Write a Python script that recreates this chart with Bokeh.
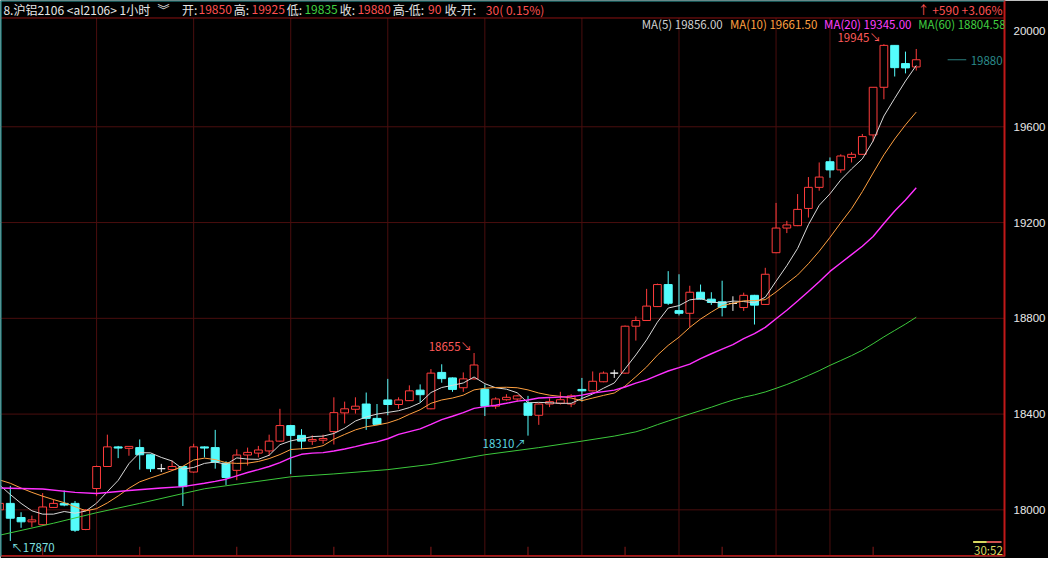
from bokeh.plotting import figure
from bokeh.models import (Range1d, LinearAxis, FixedTicker, Span, Label,
                          ColumnDataSource, Grid, PrintfTickFormatter)
from bokeh.core.properties import value
from bokeh.embed import file_html
from bokeh.resources import INLINE

# ---------------- data ----------------
opens = [18000, 18027, 17968, 17950, 17938, 18010, 18027, 18027, 17918, 18089,
         18181, 18263, 18257, 18260, 18230, 18172, 18168, 18181, 18158, 18263,
         18260, 18195, 18165, 18229, 18237, 18246, 18287, 18352, 18311, 18287,
         18291, 18327, 18405, 18420, 18442, 18382, 18459, 18440, 18456, 18500,
         18422, 18574, 18551, 18510, 18547, 18503, 18433, 18460, 18463, 18446,
         18395, 18442, 18445, 18442, 18503, 18497, 18535, 18571, 18571, 18767,
         18791, 18849, 18941, 18832, 18821, 18909, 18880, 18869, 18862, 18845,
         18896, 18858, 19074, 19177, 19187, 19259, 19347, 19454, 19420, 19472,
         19485, 19566, 19765, 19940, 19864, 19850]
highs = [18040, 18100, 17990, 17976, 18070, 18043, 18081, 18037, 18003, 18185,
         18314, 18267, 18266, 18294, 18232, 18192, 18206, 18183, 18276, 18265,
         18334, 18203, 18253, 18260, 18267, 18314, 18422, 18355, 18337, 18311,
         18314, 18470, 18452, 18470, 18490, 18442, 18547, 18470, 18520, 18524,
         18588, 18608, 18553, 18574, 18655, 18524, 18470, 18483, 18480, 18476,
         18445, 18466, 18493, 18483, 18551, 18578, 18578, 18585, 18770, 18808,
         18923, 18945, 18997, 18984, 18936, 18941, 18909, 18957, 18892, 18907,
         18898, 19011, 19282, 19207, 19319, 19390, 19451, 19472, 19485, 19494,
         19570, 19765, 19945, 19940, 19914, 19925]
lows = [17990, 17870, 17925, 17928, 17935, 18008, 18015, 17908, 17915, 18057,
        18180, 18216, 18226, 18168, 18158, 18158, 18165, 18016, 18155, 18219,
        18172, 18104, 18124, 18185, 18219, 18226, 18285, 18149, 18253, 18271,
        18276, 18273, 18361, 18402, 18334, 18355, 18395, 18422, 18455, 18449,
        18420, 18531, 18493, 18493, 18545, 18392, 18422, 18456, 18452, 18310,
        18355, 18429, 18440, 18429, 18452, 18495, 18533, 18551, 18568, 18707,
        18790, 18847, 18856, 18812, 18763, 18878, 18856, 18808, 18831, 18831,
        18774, 18856, 19072, 19156, 19185, 19221, 19333, 19387, 19408, 19451,
        19483, 19539, 19715, 19810, 19823, 19835]
closes = [18027, 17965, 17950, 17958, 18012, 18027, 18020, 17915, 17999, 18181,
          18263, 18258, 18265, 18230, 18172, 18172, 18181, 18097, 18263, 18258,
          18199, 18135, 18229, 18240, 18250, 18287, 18352, 18311, 18287, 18294,
          18298, 18406, 18422, 18433, 18382, 18357, 18440, 18459, 18497, 18481,
          18571, 18548, 18503, 18547, 18605, 18433, 18463, 18470, 18476, 18395,
          18442, 18452, 18460, 18476, 18497, 18537, 18571, 18571, 18767, 18791,
          18851, 18941, 18863, 18821, 18909, 18880, 18866, 18845, 18862, 18896,
          18855, 18984, 19177, 19190, 19255, 19347, 19390, 19420, 19478, 19485,
          19559, 19765, 19940, 19847, 19846, 19880]

ma5 = [18104, 18064, 18027, 17996, 17982, 17982, 17993, 17986, 17995, 18028,
       18076, 18123, 18193, 18239, 18238, 18219, 18204, 18170, 18177, 18194,
       18200, 18190, 18217, 18212, 18211, 18228, 18272, 18288, 18297, 18306,
       18308, 18319, 18341, 18371, 18388, 18400, 18407, 18414, 18427, 18447,
       18490, 18511, 18520, 18530, 18555, 18527, 18510, 18504, 18489, 18447,
       18449, 18447, 18445, 18445, 18465, 18484, 18508, 18530, 18589, 18647,
       18710, 18784, 18843, 18853, 18877, 18883, 18868, 18864, 18872, 18870,
       18865, 18888, 18955, 19020, 19092, 19191, 19272, 19320, 19378, 19424,
       19466, 19541, 19645, 19719, 19791, 19856.00]
ma10 = [18125, 18111, 18091, 18073, 18057, 18043, 18030, 18013, 17996, 18005,
        18029, 18058, 18090, 18117, 18133, 18148, 18164, 18182, 18208, 18216,
        18210, 18197, 18194, 18195, 18202, 18214, 18231, 18252, 18255, 18258,
        18268, 18295, 18315, 18334, 18347, 18354, 18363, 18378, 18399, 18418,
        18445, 18459, 18467, 18479, 18501, 18508, 18511, 18512, 18510, 18501,
        18488, 18479, 18474, 18467, 18456, 18467, 18478, 18488, 18517, 18556,
        18597, 18646, 18687, 18721, 18762, 18797, 18826, 18853, 18863, 18873,
        18874, 18878, 18910, 18946, 18981, 19028, 19080, 19138, 19199, 19258,
        19329, 19407, 19483, 19549, 19608, 19661.50]
ma20_idx = [0, 4, 7, 9, 12, 15, 17] + list(range(19, 86))
ma20 = [18091, 18087, 18073, 18068, 18081, 18091, 18097,
        18111, 18119, 18128, 18142, 18156, 18168, 18181, 18197, 18217, 18232,
        18237, 18239, 18246, 18254, 18264, 18275, 18284, 18297, 18315, 18327,
        18338, 18357, 18377, 18391, 18406, 18424, 18431, 18437, 18445, 18454,
        18459, 18467, 18469, 18471, 18473, 18479, 18488, 18494, 18500, 18513,
        18529, 18543, 18562, 18580, 18594, 18609, 18632, 18652, 18671, 18690,
        18715, 18736, 18762, 18798, 18834, 18872, 18912, 18953, 18996, 19031,
        19066, 19101, 19142, 19196, 19248, 19294, 19345.00]
ma60_idx = [0, 5, 9, 13, 17, 19, 27, 31, 36, 40, 45, 50, 54, 57] + list(range(59, 86))
ma60 = [17894, 17944, 17988, 18027, 18068, 18088, 18138, 18150, 18168, 18190,
        18230, 18260, 18287, 18308,
        18325.8, 18339.5, 18355.8, 18371.0, 18385.4, 18400.3, 18414.6, 18428.7,
        18444.2, 18458.5, 18470.5, 18480.3, 18492.4, 18507.6, 18523.6, 18541.7,
        18561.3, 18581.4, 18603.5, 18623.7, 18644.2, 18666.8, 18694.0, 18722.5,
        18749.3, 18775.9, 18804.58]

ma_names = ["MA(5)", "MA(10)", "MA(20)", "MA(60)"]
day_start_idx = [9, 18, 27, 36, 45, 54, 63, 72, 77]
day_mid_idx = [4, 13, 22, 31, 40, 49, 58, 67, 81]
price_ticks = [18000, 18400, 18800, 19200, 19600, 20000]
grid_prices = [18000, 18400, 18800, 19200, 19600]
high_marks = [82, 44]     # candles whose high is annotated
low_marks = [49, 1]       # candles whose low is annotated
change_text = "\u2191 +590 +3.06%"
timer_text = "30:52"

# ---------------- layout helpers (reference pixel -> data) ----------------
def dx(px):
    return (px + 1) / 11.0


def dy(py):
    return 18000 + (524 - py) * 4.0601


RED = "#ff3c3c"
CYAN = "#54fcfc"
DOJI = "#f0f0f0"
MA_COLORS = ["#d8d8d8", "#ffa040", "#ff30ff", "#3cc83c"]
MA_TEXT = ["#d0d0d0", "#ffa040", "#ff40ff", "#40d040"]
GRID = "#4a0e0e"
FONT = "Noto Sans CJK SC"

p = figure(width=1048, height=558, output_backend="svg", toolbar_location=None,
           title=None, x_range=Range1d(dx(0), dx(1024)), y_range=Range1d(dy(572), dy(0)),
           x_axis_location=None, y_axis_location=None,
           background_fill_color="black", border_fill_color="black",
           outline_line_color=None, min_border_left=0, min_border_right=39,
           min_border_top=0, min_border_bottom=2)
p.center = [r for r in p.center if not isinstance(r, Grid)]

# right price axis
yaxis = LinearAxis(ticker=FixedTicker(ticks=price_ticks),
                   formatter=PrintfTickFormatter(format="%d"),
                   axis_line_color="#c01818", axis_line_width=2,
                   major_tick_line_color=None, minor_tick_line_color=None,
                   major_label_text_color="#e8e8e8", major_label_text_font_size="11.5px",
                   major_label_text_font="Liberation Sans", major_label_standoff=3)
p.add_layout(yaxis, "right")

# grid lines
p.segment(x0=[dx(0)] * len(grid_prices), x1=[dx(1024)] * len(grid_prices),
          y0=grid_prices, y1=grid_prices, line_color=GRID, line_width=1)
p.segment(x0=day_start_idx, x1=day_start_idx, y0=[dy(572)] * len(day_start_idx),
          y1=[dy(18)] * len(day_start_idx), line_color=GRID, line_width=1)
p.segment(x0=day_mid_idx, x1=day_mid_idx, y0=[dy(572)] * len(day_mid_idx),
          y1=[dy(562)] * len(day_mid_idx), line_color="#8a1a1a", line_width=1)

# borders
p.add_layout(Span(location=dy(18), dimension="width", line_color="#8c1212", line_width=1))
p.add_layout(Span(location=dy(572), dimension="width", line_color="#b01414", line_width=3))
p.add_layout(Span(location=dy(0.5), dimension="width", line_color="#2aa8a8", line_width=1))
p.add_layout(Span(location=dx(0), dimension="height", line_color="#2aa8a8", line_width=2))

# candles
idx = list(range(len(closes)))


def make_src(sel):
    return ColumnDataSource(dict(
        x=sel, h=[highs[i] for i in sel], l=[lows[i] for i in sel],
        top=[max(opens[i], closes[i]) for i in sel],
        bot=[min(opens[i], closes[i]) for i in sel]))


up = make_src([i for i in idx if closes[i] > opens[i]])
dn = make_src([i for i in idx if closes[i] < opens[i]])
fl = make_src([i for i in idx if closes[i] == opens[i]])

p.segment(x0="x", y0="h", x1="x", y1="l", source=dn, line_color=CYAN, line_width=1)
p.vbar(x="x", top="top", bottom="bot", width=0.74, source=dn,
       fill_color=CYAN, line_color=CYAN, line_width=1)
p.segment(x0="x", y0="h", x1="x", y1="l", source=up, line_color=RED, line_width=1)
p.vbar(x="x", top="top", bottom="bot", width=0.72, source=up,
       fill_color="black", line_color=RED, line_width=1)
p.segment(x0="x", y0="h", x1="x", y1="l", source=fl, line_color=DOJI, line_width=1)
p.vbar(x="x", top="top", bottom="bot", width=0.72, source=fl,
       fill_color=DOJI, line_color=DOJI, line_width=1)

# moving averages
p.line(idx, ma5, line_color=MA_COLORS[0], line_width=1)
p.line(idx, ma10, line_color=MA_COLORS[1], line_width=1)
p.line(ma20_idx, ma20, line_color=MA_COLORS[2], line_width=1.4)
p.line(ma60_idx, ma60, line_color=MA_COLORS[3], line_width=1)

# extreme annotations
for i, xo in zip(high_marks, [-3, -2]):
    p.text(x=[i], y=[highs[i]], text=[f"{highs[i]}\u2198"], text_font=value(FONT),
           text_font_size="11.5px", text_color="#ff5a5a", text_align="right",
           text_baseline="middle", x_offset=xo, y_offset=-7)
p.text(x=[low_marks[0]], y=[lows[low_marks[0]]], text=[f"{lows[low_marks[0]]}\u2197"],
       text_font=value(FONT), text_font_size="11.5px", text_color="#5ad8e0",
       text_align="right", text_baseline="middle", x_offset=-2, y_offset=7)
p.text(x=[low_marks[1]], y=[lows[low_marks[1]]], text=[f"\u2196{lows[low_marks[1]]}"],
       text_font=value(FONT), text_font_size="11.5px", text_color="#7fe0e0",
       text_align="left", text_baseline="middle", x_offset=1, y_offset=6)


def lab(px, py, text, color, size="12px", align="left"):
    p.add_layout(Label(x=dx(px), y=dy(py), text=text, text_color=color,
                       text_font_size=size, text_align=align, text_baseline="middle",
                       text_font=FONT))


# last price marker (kept inside the chart, just left of the price axis)
last = closes[-1]
p.segment(x0=[dx(966)], x1=[dx(985)], y0=[last], y1=[last], line_color="#2a7f7f", line_width=1)
lab(1022, 62, f"{last}", "#2a8a8a", "11.5px", "right")

# header line
W_ = "#e6e6e6"
R_ = "#ff5050"
G_ = "#40d040"
o, h, l, c = opens[-1], highs[-1], lows[-1], closes[-1]
lab(3, 9, "8.沪铝2106 <al2106> 1小时", W_)
lab(160, 9, "\ufe3e", W_)
lab(185, 9, "开:", W_); lab(202, 9, f"{o}", R_)
lab(238, 9, "高:", W_); lab(256, 9, f"{h}", R_)
lab(292, 9, "低:", W_); lab(310, 9, f"{l}", G_)
lab(346, 9, "收:", W_); lab(364, 9, f"{c}", R_)
lab(400, 9, "高-低:", W_); lab(436, 9, f"{h - l}", R_)
lab(453, 9, "收-开:", W_)
lab(495, 9, f"{c - o}( {100 * (c - o) / o:.2f}%)", R_)
lab(1022, 9, change_text, R_, "12px", "right")

# MA legend
for px, name, vals, col in zip([654, 744, 840, 936], ma_names,
                               [ma5, ma10, ma20, ma60], MA_TEXT):
    lab(px, 24, f"{name} {vals[-1]:.2f}", col, "11.5px")

# timer box
p.quad(left=[dx(992)], right=[dx(1006)], bottom=[dy(558)], top=[dy(556)],
       fill_color="#d8d860", line_color=None)
p.quad(left=[dx(1006)], right=[dx(1021)], bottom=[dy(558)], top=[dy(556)],
       fill_color="#d05050", line_color=None)
lab(993, 565, timer_text, "#d8d860", "11.5px")

open("out.html", "w").write(file_html(p, INLINE))
